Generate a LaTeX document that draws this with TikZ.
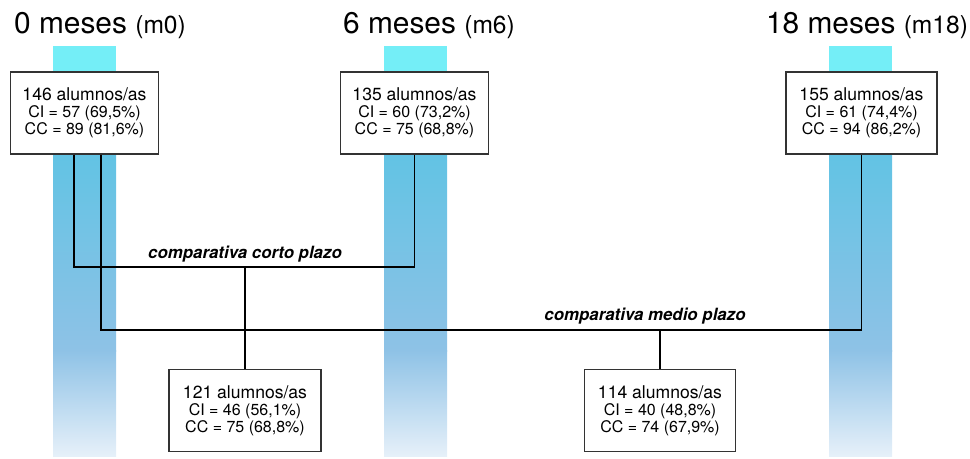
\documentclass[tikz,border=0pt]{standalone}
\usepackage{fontspec}
\setmainfont{TeX Gyre Heros}
\usetikzlibrary{positioning}

\definecolor{barcyan}{HTML}{74EEF7}
\definecolor{barblue}{HTML}{62C3E4}
\definecolor{barmid}{HTML}{78BCE0}
\definecolor{barlow}{HTML}{8EC2E6}
\definecolor{barpale}{HTML}{E6F0F9}

\begin{document}
\begin{tikzpicture}[x=0.02cm,y=-0.02cm,
    grupo/.style={draw=black!80,line width=0.7pt,fill=white,minimum width=2.96cm,
      minimum height=1.64cm,inner sep=0pt,align=center,font=\fontsize{9.1}{9.6}\selectfont},
    titulo/.style={anchor=base,font=\fontsize{17}{20}\selectfont},
    comp/.style={font=\fontsize{9.6}{11}\selectfont\bfseries\itshape},
    enlace/.style={line width=1.1pt}]
    \useasboundingbox (0,0) rectangle (970,458);
    % columnas de fondo
    \foreach \x in {53,384,829} {
        \fill[barcyan] (\x,46) rectangle ++(63,110);
        \shade[top color=barblue,middle color=barmid,bottom color=barlow] (\x,154) rectangle ++(63,197);
        \shade[top color=barlow,bottom color=barpale] (\x,350) rectangle ++(63,106);
    }
    % titulos
    \node[titulo] (t0) at (100,33) {0 meses {\fontsize{14}{16}\selectfont(m0)}};
    \node[titulo] (t6) at (429,33) {6 meses {\fontsize{14}{16}\selectfont(m6)}};
    \node[titulo] (t18) at (867,33) {18 meses {\fontsize{14}{16}\selectfont(m18)}};
    % grupos
    \node[grupo] (m0) at (84.5,113) {{\fontsize{10}{12}\selectfont 146 alumnos/as}\\CI = 57 (69,5\%)\\CC = 89 (81,6\%)};
    \node[grupo] (m6) at (414.5,113) {{\fontsize{10}{12}\selectfont 135 alumnos/as}\\CI = 60 (73,2\%)\\CC = 75 (68,8\%)};
    \node[grupo,minimum width=3.02cm] (m18) at (861.5,113) {{\fontsize{10}{12}\selectfont 155 alumnos/as}\\CI = 61 (74,4\%)\\CC = 94 (86,2\%)};
    \node[grupo,minimum width=3.04cm] (cp) at (245,410.5) {{\fontsize{10}{12}\selectfont 121 alumnos/as}\\CI = 46 (56,1\%)\\CC = 75 (68,8\%)};
    \node[grupo,minimum width=3.02cm] (mp) at (660,410.5) {{\fontsize{10}{12}\selectfont 114 alumnos/as}\\CI = 40 (48,8\%)\\CC = 74 (67,9\%)};
    % comparativas
    \coordinate (corto) at (245,267);
    \coordinate (medio) at (660,330);
    \draw[enlace] ([xshift=-0.21cm]m0.south) |- (corto) -| (m6.south);
    \draw[enlace] ([xshift=0.33cm]m0.south) |- (medio) -| (m18.south);
    \draw[enlace] (corto) -- (cp.north);
    \draw[enlace] (medio) -- (mp.north);
    \node[comp] (lc) at (245,254) {comparativa corto plazo};
    \node[comp] (lm) at (645,316) {comparativa medio plazo};
\end{tikzpicture}
\end{document}
